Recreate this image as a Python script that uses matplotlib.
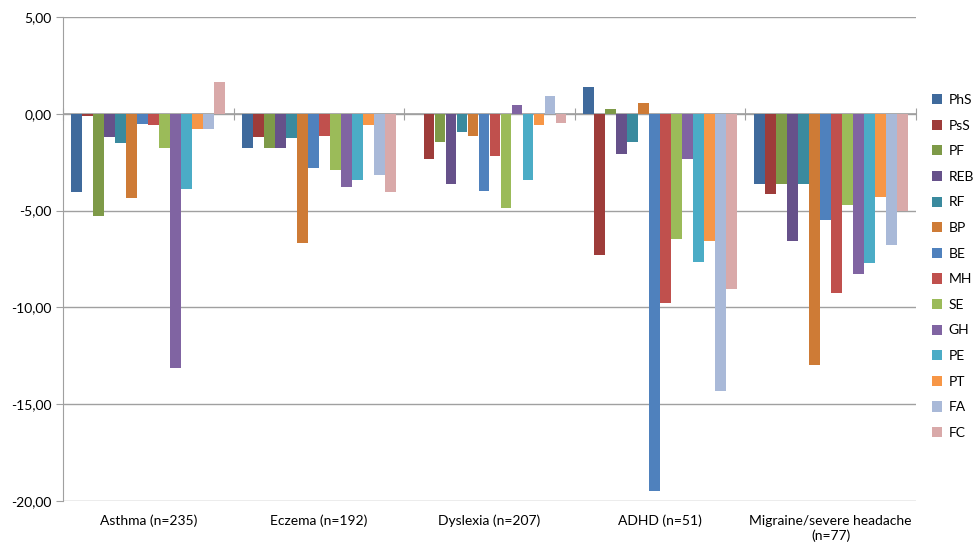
import numpy as np
import matplotlib.pyplot as plt
from matplotlib.ticker import FuncFormatter

plt.rcParams['font.family'] = ['Lato', 'DejaVu Sans']

# Diagnosegruppen und Skalen
categories = ['Asthma (n=235)', 'Eczema (n=192)', 'Dyslexia (n=207)',
              'ADHD (n=51)', 'Migraine/severe headache\n(n=77)']
scales = ['PhS', 'PsS', 'PF', 'REB', 'RF', 'BP', 'BE', 'MH', 'SE', 'GH',
          'PE', 'PT', 'FA', 'FC']

# Abweichungen je Gruppe (Reihenfolge wie scales)
asthma = [-4.04, -0.12, -5.29, -1.20, -1.51, -4.33, -0.52, -0.57, -1.79,
          -13.12, -3.87, -0.79, -0.77, 1.62]
eczema = [-1.79, -1.20, -1.75, -1.75, -1.27, -6.67, -2.78, -1.17, -2.92,
          -3.78, -3.44, -0.60, -3.18, -4.02]
dyslexia = [0.0, -2.35, -1.44, -3.64, -0.93, -1.13, -4.00, -2.16, -4.85,
            0.45, -3.40, -0.60, 0.91, -0.45]
adhd = [1.39, -7.29, 0.24, -2.08, -1.44, 0.55, -19.50, -9.75, -6.48,
        -2.32, -7.66, -6.55, -14.30, -9.04]
migraine = [-3.64, -4.14, -3.64, -6.58, -3.61, -13.00, -5.50, -9.25, -4.73,
            -8.26, -7.71, -4.31, -6.77, -5.00]

colors = ['#3F6A9C', '#9E3C3A', '#7E9A48', '#66518A', '#3A8A9E', '#CE7B36',
          '#4F81BD', '#C0504D', '#9BBB59', '#8064A2', '#4BACC6', '#F79646',
          '#A9B9D8', '#D9A9A9']

data = np.array([asthma, eczema, dyslexia, adhd, migraine])

fig = plt.figure(figsize=(9.76, 5.51), dpi=100)
ax = fig.add_axes([63 / 976, 50 / 551, 853 / 976, 484 / 551])

n = len(scales)
bw = 0.0645
x = np.arange(len(categories))
for i, s in enumerate(scales):
    offs = (i - (n - 1) / 2) * bw
    ax.bar(x + offs, data[:, i], width=bw * 0.97, color=colors[i], label=s,
           linewidth=0, zorder=3)

ax.set_xlim(-0.5, len(categories) - 0.5)
ax.set_ylim(-20, 5)
ax.set_yticks(np.arange(-20, 6, 5))
ax.yaxis.set_major_formatter(FuncFormatter(lambda v, p: f'{v:.2f}'.replace('.', ',')))
ax.grid(axis='y', color='#A0A0A0', linewidth=1, zorder=0)
ax.set_axisbelow(True)

for sp in ['top', 'right']:
    ax.spines[sp].set_visible(False)
ax.spines['left'].set_color('#A0A0A0')
ax.spines['bottom'].set_visible(False)
ax.tick_params(axis='y', color='#A0A0A0', length=5, labelsize=10, pad=3)
ax.set_xticks(x)
ax.set_xticklabels(categories, fontsize=10)
ax.tick_params(axis='x', length=0, pad=10)

# Kategorieachse bei 0 mit Trennstrichen
ax.axhline(0, color='#A0A0A0', linewidth=1.2, zorder=2)
sec = ax.secondary_xaxis(0.8)
sec.set_xticks(np.arange(-0.5, len(categories), 1))
sec.tick_params(axis='x', direction='inout', length=8, color='#A0A0A0',
                labelbottom=False, labeltop=False)
sec.spines['bottom'].set_visible(False)
sec.spines['top'].set_visible(False)

ax.legend(loc='upper left', bbox_to_anchor=(932 / 976, 1 - 94 / 551),
          bbox_transform=fig.transFigure, frameon=False, fontsize=10,
          handlelength=0.75, handleheight=0.75, handletextpad=0.45,
          labelspacing=0.98, borderaxespad=0, borderpad=0)

fig.savefig('out.png', dpi=100)
